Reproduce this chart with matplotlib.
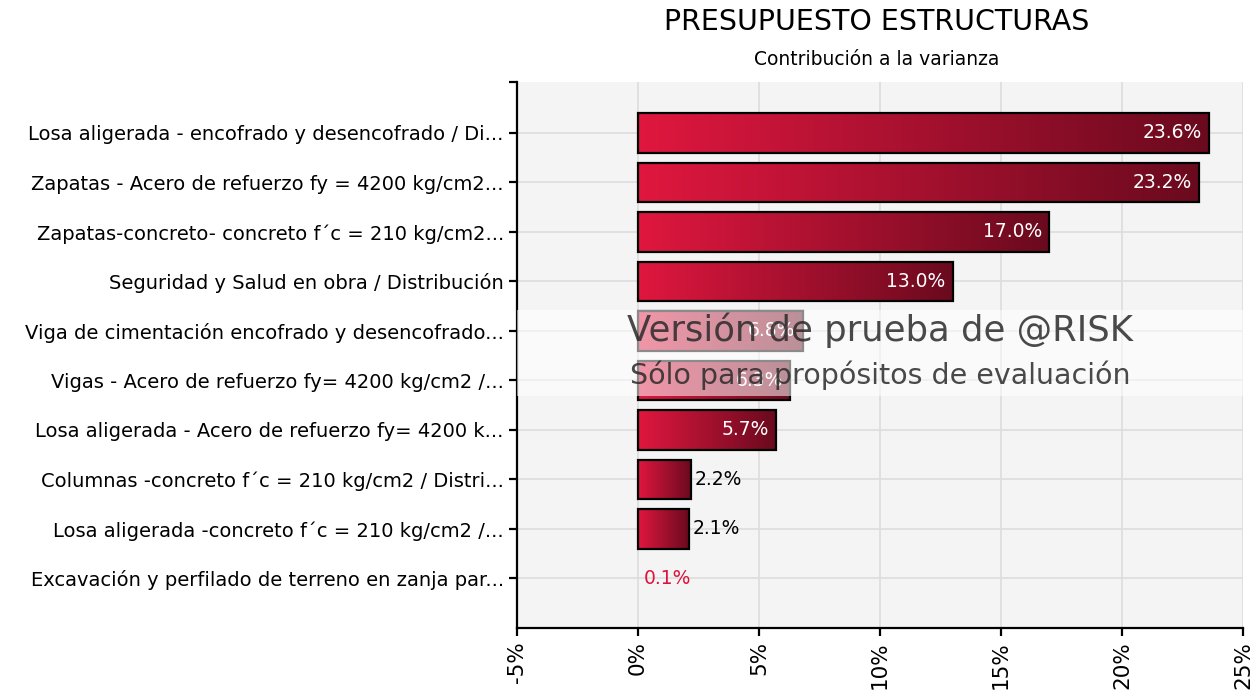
import matplotlib.pyplot as plt
import numpy as np
from matplotlib.colors import LinearSegmentedColormap
from matplotlib.patches import Rectangle

# contribution to variance, %
labels = [
    "Losa aligerada - encofrado y desencofrado / Di...",
    "Zapatas - Acero de refuerzo fy = 4200 kg/cm2...",
    "Zapatas-concreto- concreto f\u00b4c = 210 kg/cm2...",
    "Seguridad y Salud en obra / Distribuci\u00f3n",
    "Viga de cimentaci\u00f3n encofrado y desencofrado...",
    "Vigas - Acero de refuerzo fy= 4200 kg/cm2 /...",
    "Losa aligerada - Acero de refuerzo fy= 4200 k...",
    "Columnas -concreto f\u00b4c = 210 kg/cm2 / Distri...",
    "Losa aligerada -concreto f\u00b4c = 210 kg/cm2 /...",
    "Excavaci\u00f3n y perfilado de terreno en zanja par...",
]
values = [23.6, 23.2, 17.0, 13.0, 6.8, 6.3, 5.7, 2.2, 2.1, 0.1]
xticks = [-5, 0, 5, 10, 15, 20, 25]

crimson = "#DC143C"
cmap = LinearSegmentedColormap.from_list("bar", ["#E0173F", "#6A0A1E"])
grad = np.linspace(0, 1, 256).reshape(1, -1)

fig = plt.figure(figsize=(12.56, 6.96), dpi=100)
ax = fig.add_axes([0.4116, 0.0977, 0.578, 0.7845])
ax.set_facecolor("#F4F4F4")

bar_h = 0.8
for i, v in enumerate(values):
    if v < 0.5:
        continue
    y0 = i - bar_h / 2
    im = ax.imshow(grad, cmap=cmap, aspect="auto", extent=[0, v, y0 + bar_h, y0],
                   zorder=2, interpolation="bicubic")
    rect = Rectangle((0, y0), v, bar_h, facecolor="none", edgecolor="black",
                     linewidth=1.6, zorder=3)
    ax.add_patch(rect)
    im.set_clip_path(rect)

for i, v in enumerate(values):
    txt = f"{v:.1f}%"
    if v > 5:
        ax.text(v - 0.3, i, txt, color="white", ha="right", va="center",
                fontsize=13.5, zorder=4)
    elif v >= 0.5:
        ax.text(v + 0.15, i, txt, color="black", ha="left", va="center",
                fontsize=13.5, zorder=4)
    else:
        ax.text(v + 0.15, i, txt, color=crimson, ha="left", va="center",
                fontsize=13.5, zorder=4)

top = -1.03
ax.set_xlim(-5, 25)
ax.set_ylim(len(values), top)
ax.set_xticks(xticks)
ax.set_xticklabels([f"{t}%" for t in xticks], rotation=90, fontsize=15.5)
ax.set_yticks(range(len(labels)))
ax.set_yticklabels(labels, fontsize=14)
ax.set_yticks([top], minor=True)
ax.grid(True, color="#DDDDDD", linewidth=1.2, zorder=0)
ax.set_axisbelow(True)
for s in ["top", "right"]:
    ax.spines[s].set_visible(False)
for s in ["left", "bottom"]:
    ax.spines[s].set_linewidth(1.6)
ax.tick_params(axis="both", which="both", length=6, width=1.6)

# trial watermark
ax.add_patch(Rectangle((0, 0.425), 1, 0.157, transform=ax.transAxes,
                       facecolor="white", alpha=0.55, edgecolor="none", zorder=5))
ax.text(0.5, 0.545, "Versi\u00f3n de prueba de @RISK", transform=ax.transAxes,
        ha="center", va="center", fontsize=25.5, color="#2a2a2a", alpha=0.85, zorder=6)
ax.text(0.5, 0.462, "S\u00f3lo para prop\u00f3sitos de evaluaci\u00f3n", transform=ax.transAxes,
        ha="center", va="center", fontsize=20.5, color="#2a2a2a", alpha=0.85, zorder=6)

fig.text(0.698, 0.968, "PRESUPUESTO ESTRUCTURAS", ha="center", va="center", fontsize=20.5)
fig.text(0.698, 0.915, "Contribuci\u00f3n a la varianza", ha="center", va="center", fontsize=13.5)

plt.savefig("out.png", dpi=100)
